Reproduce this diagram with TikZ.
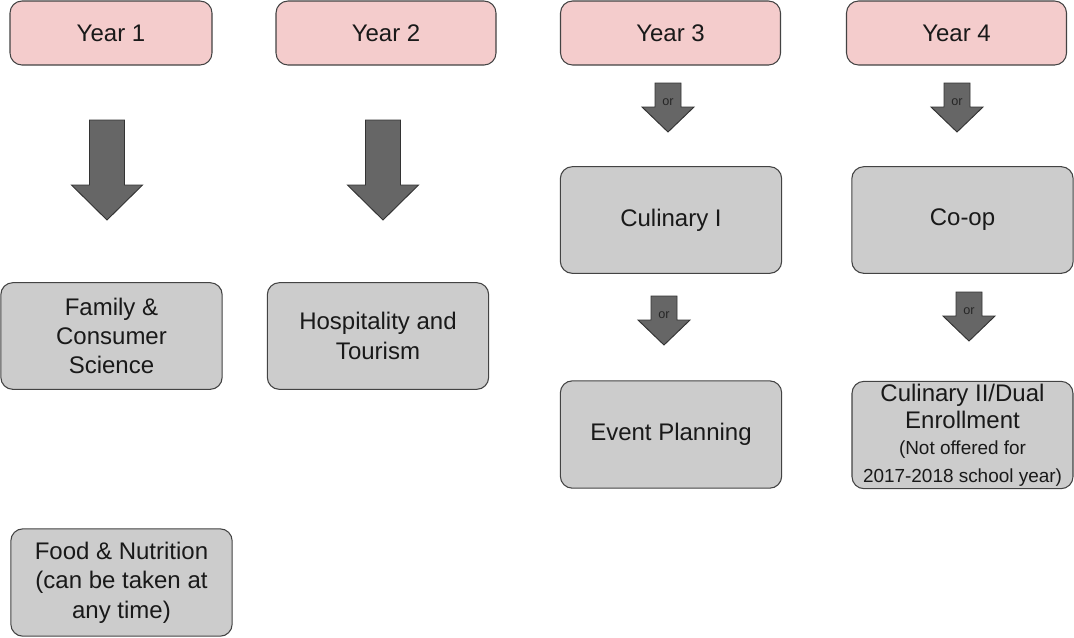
\documentclass[tikz,border=0pt]{standalone}
\usepackage{fontspec}
\setmainfont{Liberation Sans}
\definecolor{pinkfill}{HTML}{F4CCCC}
\definecolor{grayfill}{HTML}{CCCCCC}
\definecolor{arrowfill}{HTML}{666666}
\definecolor{edgecol}{HTML}{434343}
\newcommand\smalltxt{\fontsize{14.2}{17}\selectfont}
\tikzset{
  base/.style={draw=edgecol, line width=0.8pt, rounded corners=9pt, align=center, inner sep=2pt,
    font=\fontsize{18}{22}\selectfont, text=black!90},
  yearbox/.style={base, fill=pinkfill, minimum width=165pt, minimum height=48pt},
  grbox/.style={base, fill=grayfill, minimum width=166pt, minimum height=80pt},
  blockarrow/.style={draw=black!80, line width=0.7pt, fill=arrowfill},
  bigarrow/.pic={\draw[blockarrow] (-17.5,0) -- (17.5,0) -- (17.5,65) -- (35.5,65) -- (0,100) -- (-35.5,65) -- (-17.5,65) -- cycle;},
  smallarrow/.pic={\draw[blockarrow] (-13,0) -- (13,0) -- (13,24) -- (26,24) -- (0,49) -- (-26,24) -- (-13,24) -- cycle;
    \node[font=\fontsize{9.5}{10}\selectfont, text=black!85, inner sep=0pt] at (0,19) {or};},
}
\begin{document}
\begin{tikzpicture}[x=0.75pt, y=-0.75pt]
\useasboundingbox (0,0) rectangle (1074,637);
% year headers
\node[yearbox, minimum width=151.5pt] (y1) at (111,33) {Year 1};
\node[yearbox] (y2) at (386,33) {Year 2};
\node[yearbox] (y3) at (670.5,33) {Year 3};
\node[yearbox] (y4) at (956.5,33) {Year 4};
% course boxes
\node[grbox] (fcs) at (111.5,336) {Family \&\\Consumer\\Science};
\node[grbox] (ht) at (378,336) {Hospitality and\\Tourism};
\node[grbox, minimum height=80.5pt] (fn) at (121.5,582.5) {Food \& Nutrition\\(can be taken at\\any time)};
\node[grbox] (c1) at (671,220) {Culinary I};
\node[grbox] (coop) at (962.5,220) {Co-op};
\node[grbox, minimum height=80.5pt] (ep) at (671,434.5) {Event Planning};
\node[grbox, minimum width=165.75pt, minimum height=80.5pt, inner sep=0pt, font=\fontsize{18}{20.5}\selectfont] (c2) at (962.5,435)
  {Culinary II/Dual\\Enrollment\\[-1pt]{\smalltxt (Not offered for}\\{\smalltxt 2017-2018 school year)}};
% block arrows
\pic at (107,120) {bigarrow};
\pic at (383,120) {bigarrow};
\pic at (668,83) {smallarrow};
\pic at (957,83) {smallarrow};
\pic at (664,296) {smallarrow};
\pic at (969,292) {smallarrow};
\end{tikzpicture}
\end{document}
